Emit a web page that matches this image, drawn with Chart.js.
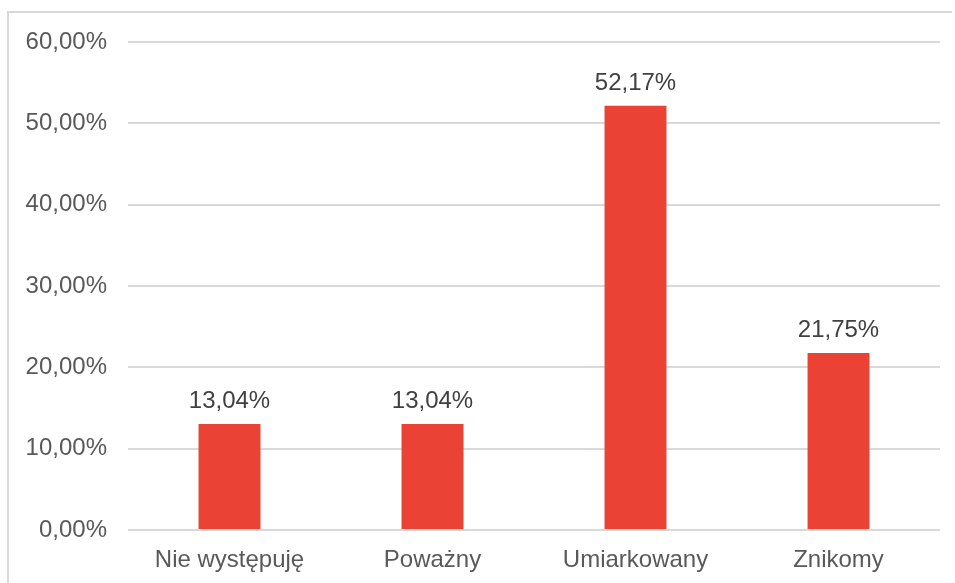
<!DOCTYPE html>
<html>
<head>
<meta charset="utf-8">
<script src="https://cdn.jsdelivr.net/npm/chart.js@4/dist/chart.umd.min.js"></script>
<style>
  html, body { margin: 0; padding: 0; background: #fff; }
  #wrap { position: relative; width: 955px; height: 583px; overflow: hidden; }
  #frame { position: absolute; left: 7px; top: 11px; width: 943px; height: 600px;
           border-left: 2px solid #d9d9d9; border-top: 2px solid #d9d9d9; }
  canvas { position: absolute; left: 0; top: 0; }
</style>
</head>
<body>
<div id="wrap">
  <div id="frame"></div>
  <canvas id="c" width="955" height="583"></canvas>
</div>
<script>
const categories = ["Nie występuję", "Poważny", "Umiarkowany", "Znikomy"];
const values = [13.04, 13.04, 52.17, 21.75];
const yTicks = [0, 10, 20, 30, 40, 50, 60];

const fmt = v => v.toFixed(2).replace('.', ',') + '%';
const FONT = "'Liberation Sans', Arial, sans-serif";

const labelPlugin = {
  id: 'barLabels',
  afterDatasetsDraw(chart) {
    const ctx = chart.ctx;
    const meta = chart.getDatasetMeta(0);
    ctx.save();
    ctx.font = "24px " + FONT;
    ctx.fillStyle = '#404040';
    ctx.textAlign = 'center';
    ctx.textBaseline = 'alphabetic';
    meta.data.forEach((bar, i) => {
      ctx.fillText(fmt(values[i]), bar.x, bar.y - 16);
    });
    ctx.restore();
  }
};

new Chart(document.getElementById('c'), {
  type: 'bar',
  data: {
    labels: categories,
    datasets: [{
      data: values,
      backgroundColor: '#EA4335',
      borderWidth: 0,
      categoryPercentage: 1,
      barPercentage: 0.305
    }]
  },
  options: {
    responsive: false,
    animation: false,
    devicePixelRatio: 1,
    layout: { padding: { top: 42, right: 15, left: 0, bottom: 0 } },
    plugins: { legend: { display: false }, tooltip: { enabled: false } },
    scales: {
      x: {
        grid: { display: false, drawTicks: false },
        border: { display: false },
        ticks: { font: { family: FONT, size: 24 }, color: '#595959', padding: 16 },
        afterFit: s => { s.height = 53; }
      },
      y: {
        min: 0, max: 60,
        afterBuildTicks: s => { s.ticks = yTicks.map(v => ({ value: v })); },
        grid: { color: '#d9d9d9', lineWidth: 2, drawTicks: false },
        border: { display: false },
        ticks: {
          font: { family: FONT, size: 24 }, color: '#595959', padding: 21,
          callback: v => fmt(v)
        },
        afterFit: s => { s.width = 128; }
      }
    }
  },
  plugins: [labelPlugin]
});
</script>
</body>
</html>
